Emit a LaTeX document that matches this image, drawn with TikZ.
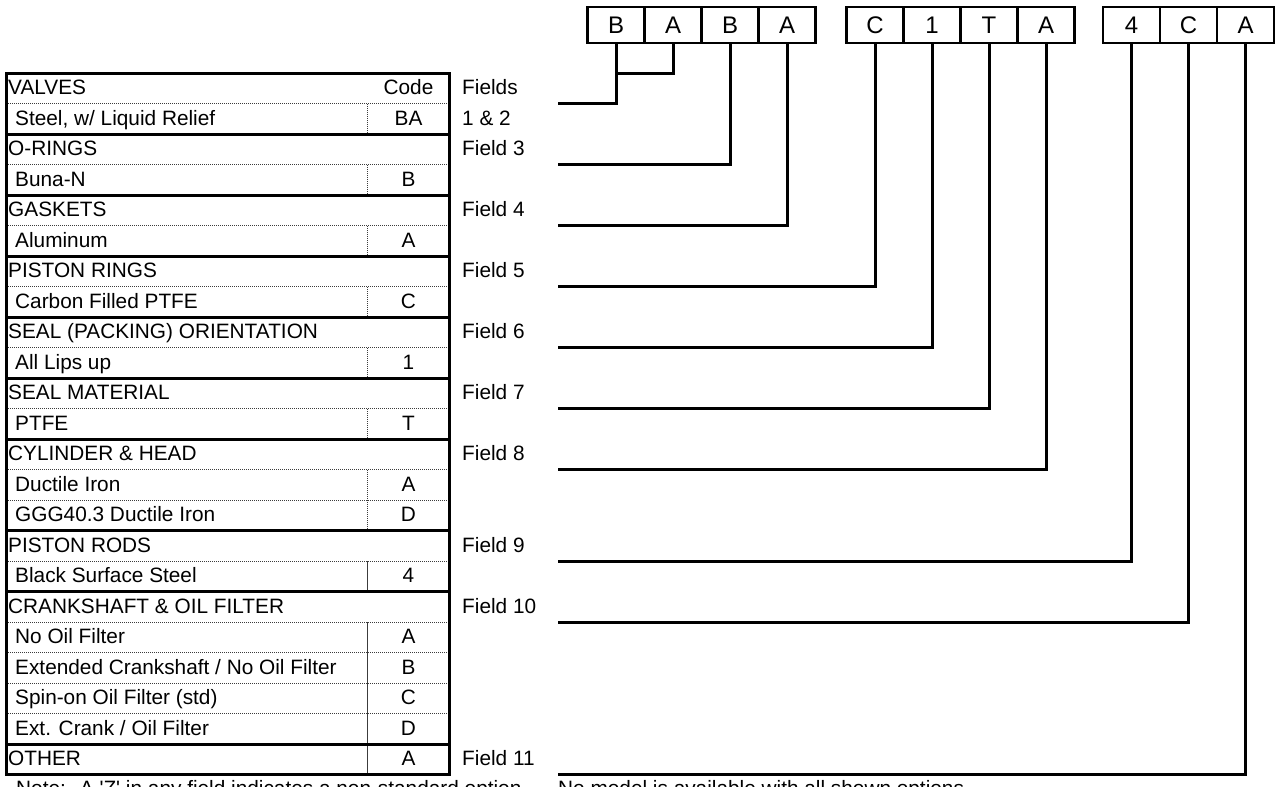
\documentclass[tikz,border=0pt]{standalone}
\usepackage{fontspec}
\setmainfont{Liberation Sans}
\usetikzlibrary{calc,positioning}
\definecolor{mcInk}{RGB}{0,0,0}
\definecolor{mcDot}{RGB}{60,60,60}
\newcommand{\rowtop}[1]{73.3+30.5*#1}
\tikzset{
  cell/.style={draw=mcInk,line width=2.4pt,minimum width=57pt,minimum height=36pt,
    inner sep=0pt,font=\fontsize{24}{24}\selectfont},
  hdtext/.style={anchor=base west,inner sep=0pt,font=\fontsize{20.8}{20.8}\selectfont},
  optext/.style={hdtext},
  cdtext/.style={anchor=base,inner sep=0pt,font=\fontsize{20.8}{20.8}\selectfont},
  sepline/.style={draw=mcInk,line width=3pt},
  dotline/.style={draw=mcDot,line width=1.1pt,dash pattern=on 1pt off 1pt},
  dotdiv/.style={draw=mcDot,line width=1.6pt,dash pattern=on 1.2pt off 0.8pt},
  wire/.style={draw=mcInk,line width=3pt}
}

\begin{document}
\begin{tikzpicture}[x=1pt,y=-1pt]
  \useasboundingbox (0,0) rectangle (1275,787);
  \foreach \n/\x/\t in {1/616/B,2/673/A,3/730/B,4/787/A,5/875/C,6/932/1,7/989/T,8/1046/A,
      9/1131.5/4,10/1188.5/C,11/1245.5/A}
    \node[cell] (fd\n) at (\x,25) {\t};

  \foreach \i/\txt/\fld in {0/VALVES/Fields,2/O-RINGS/Field 3,4/GASKETS/Field 4,6/PISTON RINGS/Field 5,
      8/SEAL (PACKING) ORIENTATION/Field 6,10/SEAL MATERIAL/Field 7,12/CYLINDER \& HEAD/Field 8,
      15/PISTON RODS/Field 9,17/CRANKSHAFT \& OIL FILTER/Field 10,22/OTHER/Field 11}{
    \pgfmathsetmacro\yb{\rowtop{\i}+21.5}
    \node[hdtext] (hd\i) at (8,\yb) {\txt};
    \node[hdtext] (fl\i) at (462,\yb) {\fld};
  }
  \foreach \i/\txt/\cd in {1/{Steel, w/ Liquid Relief}/BA,3/Buna-N/B,5/Aluminum/A,7/Carbon Filled PTFE/C,
      9/All Lips up/1,11/PTFE/T,13/Ductile Iron/A,14/GGG40.3 Ductile Iron/D,16/Black Surface Steel/4,
      18/No Oil Filter/A,19/{Extended Crankshaft / No Oil Filter}/B,20/Spin-on Oil Filter (std)/C,
      21/{Ext. Crank / Oil Filter}/D}{
    \pgfmathsetmacro\yb{\rowtop{\i}+21.5}
    \node[optext] (op\i) at (15,\yb) {\txt};
    \node[cdtext] (cd\i) at (408.5,\yb) {\cd};
  }
  \node[cdtext] (cd0) at (408.5,{\rowtop{0}+21.5}) {Code};
  \node[cdtext] (cd22) at (408.5,{\rowtop{22}+21.5}) {A};
  \node[hdtext] (fl1) at (462,{\rowtop{1}+21.5}) {1 \& 2};

  \foreach \i in {1,3,5,7,9,11,13,14,16,18,19,20,21}
    \draw[dotline] (6,{\rowtop{\i}}) -- (449,{\rowtop{\i}});
  \foreach \a/\b in {1/2,3/4,5/6,7/8,9/10,11/12,13/15,16/17,18/23}
    \draw[dotdiv] (367.5,{\rowtop{\a}}) -- (367.5,{\rowtop{\b}});
  \foreach \i in {2,4,6,8,10,12,15,17,22}
    \draw[sepline] (6,{\rowtop{\i}}) -- (449,{\rowtop{\i}});
  \draw[sepline] (6,{\rowtop{0}}) rectangle (449,{\rowtop{23}});

  \coordinate (jn) at (616,73);
  \coordinate (e1) at (558,{\rowtop{1}});
  \draw[wire] (fd2.south) |- (jn);
  \draw[wire] (fd1.south) |- (e1);
  \foreach \n/\r in {3/3,4/5,5/7,6/9,7/11,8/13,9/16,10/18,11/23}{
    \coordinate (e\n) at (558,{\rowtop{\r}});
    \draw[wire] (fd\n.south) |- (e\n);
  }

  \node[hdtext] (note1) at (16,795) {Note:\hspace{14pt}A \textquotesingle Z\textquotesingle\ in any field indicates a non-standard option.};
  \node[hdtext] (note2) at (558,795) {No model is available with all shown options.};
\end{tikzpicture}
\end{document}
